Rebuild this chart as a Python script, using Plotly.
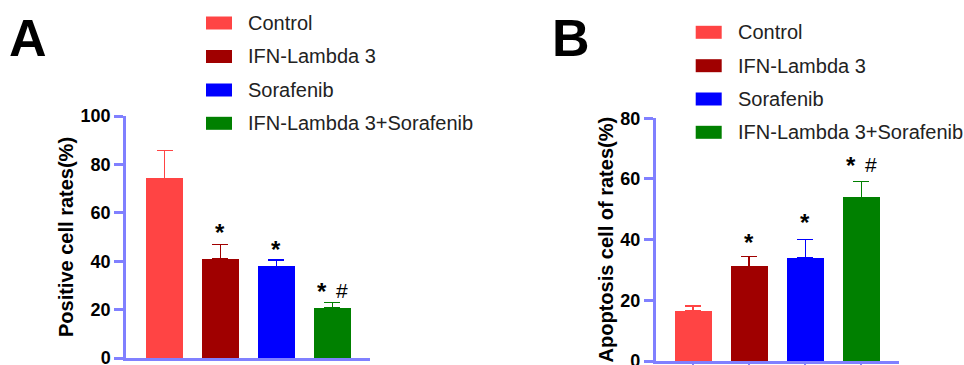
import plotly.graph_objects as go

W, H = 964, 365

groups = ["Control", "IFN-Lambda 3", "Sorafenib", "IFN-Lambda 3+Sorafenib"]
colors = ["#FF4444", "#A00000", "#0000FF", "#008000"]

# Panel A: Positive cell rates (%)
a_mean = [74.2, 40.9, 37.9, 20.8]
a_err_top = [85.8, 47.0, 40.6, 22.9]
a_sig = ["", "*", "*", "* #"]
a_sig_y = [0, 53.3, 45.9, 28.9]
a_ticks = [0, 20, 40, 60, 80, 100]

# Panel B: Apoptosis cell of rates (%)
b_mean = [16.5, 31.1, 34.0, 53.8]
b_err_top = [18.1, 34.4, 40.1, 59.1]
b_sig = ["", "*", "*", "* #"]
b_sig_y = [0, 40.1, 46.5, 65.3]
b_ticks = [0, 20, 40, 60, 80]

AX = "#8080FF"
FONT = "Liberation Sans, Arial, sans-serif"

def px_x(p):
    return p / W

def px_y(p):
    return 1 - p / H

fig = go.Figure()

for i, g in enumerate(groups):
    fig.add_trace(go.Bar(
        x=[g], y=[a_mean[i]], marker=dict(color=colors[i], line=dict(width=0)),
        width=0.66, showlegend=False, xaxis="x", yaxis="y",
        error_y=dict(type="data", symmetric=False, array=[a_err_top[i] - a_mean[i]],
                     arrayminus=[0], color=colors[i], thickness=1.5, width=8),
    ))
    fig.add_trace(go.Bar(
        x=[g], y=[b_mean[i]], marker=dict(color=colors[i], line=dict(width=0)),
        width=0.66, showlegend=False, xaxis="x2", yaxis="y2",
        error_y=dict(type="data", symmetric=False, array=[b_err_top[i] - b_mean[i]],
                     arrayminus=[0], color=colors[i], thickness=1.5, width=8),
    ))

yaxis_common = dict(
    showline=True, linecolor=AX, linewidth=2.5, ticks="outside", ticklen=9,
    tickwidth=2.5, tickcolor=AX, showgrid=False, zeroline=False, automargin=False,
    ticklabeloverflow="allow",
    tickfont=dict(family=FONT, size=18, color="black", weight="bold"),
    title_font=dict(family=FONT, size=20, color="black", weight="bold"),
)

fig.update_layout(
    width=W, height=H, margin=dict(l=0, r=0, t=0, b=0, autoexpand=False),
    plot_bgcolor="white", paper_bgcolor="white", bargap=0, barmode="overlay",
    showlegend=False,
    xaxis=dict(domain=[px_x(126), px_x(370)], type="category",
               categoryorder="array", categoryarray=groups, automargin=False,
               range=[-0.6875, 3.67], showline=True, linecolor=AX, linewidth=2.5,
               showticklabels=False, ticks="", showgrid=False, anchor="y"),
    yaxis=dict(domain=[px_y(358), px_y(116)], range=[0, 100], tickvals=a_ticks,
               title=dict(text="Positive cell rates(%)", standoff=2), anchor="x",
               **yaxis_common),
    xaxis2=dict(domain=[px_x(655.7), px_x(899)], type="category",
                categoryorder="array", categoryarray=groups, automargin=False,
                range=[-0.665, 3.67], showline=True, linecolor=AX, linewidth=2.5,
                showticklabels=False, ticks="outside", ticklen=6, tickwidth=2,
                tickcolor=AX, showgrid=False, anchor="y2"),
    yaxis2=dict(domain=[px_y(361), px_y(118.3)], range=[0, 80], tickvals=b_ticks,
                title=dict(text="Apoptosis cell of rates(%)", standoff=2), anchor="x2",
                **yaxis_common),
)

ann = []
shapes = []

# significance marks: bold asterisk, regular hash beside it
def add_sig(marks, ys, xref, yref):
    for i, g in enumerate(groups):
        parts = marks[i].split()
        if not parts:
            continue
        two = len(parts) > 1
        for k, p in enumerate(parts):
            is_star = p == "*"
            ann.append(dict(
                x=g, y=ys[i], xref=xref, yref=yref,
                text="<b>*</b>" if is_star else p,
                showarrow=False, xanchor="center", yanchor="middle",
                xshift=(-10 if k == 0 else 10) if two else 0,
                yshift=-3 if is_star else -2,
                font=dict(family=FONT, size=24 if is_star else 21, color="black")))

add_sig(a_sig, a_sig_y, "x", "y")
add_sig(b_sig, b_sig_y, "x2", "y2")

# panel letters
ann.append(dict(x=px_x(28), y=px_y(38), xref="paper", yref="paper", text="A",
                showarrow=False, xanchor="center", yanchor="middle",
                font=dict(family=FONT, size=52, color="black", weight="bold")))
ann.append(dict(x=px_x(571), y=px_y(38), xref="paper", yref="paper", text="B",
                showarrow=False, xanchor="center", yanchor="middle",
                font=dict(family=FONT, size=52, color="black", weight="bold")))

# legends (drawn as swatches + labels)
legA = dict(x0=206, x1=232, tx=246, ys=[23, 56.5, 90, 123.3])
legB = dict(x0=695.7, x1=721.7, tx=735.7, ys=[32.3, 65.7, 99, 132.3])
for leg in (legA, legB):
    for i, g in enumerate(groups):
        yc = leg["ys"][i]
        shapes.append(dict(type="rect", xref="paper", yref="paper",
                           x0=px_x(leg["x0"]), x1=px_x(leg["x1"]),
                           y0=px_y(yc + 6.5), y1=px_y(yc - 6.5),
                           fillcolor=colors[i], line=dict(width=0)))
        ann.append(dict(x=px_x(leg["tx"]), y=px_y(yc), xref="paper", yref="paper",
                        text=g, showarrow=False, xanchor="left", yanchor="middle",
                        font=dict(family=FONT, size=20, color="#222222")))

fig.update_layout(annotations=ann, shapes=shapes)

fig.write_html("out.html", config={"displayModeBar": False},
               post_script="document.body.style.margin='0';")
